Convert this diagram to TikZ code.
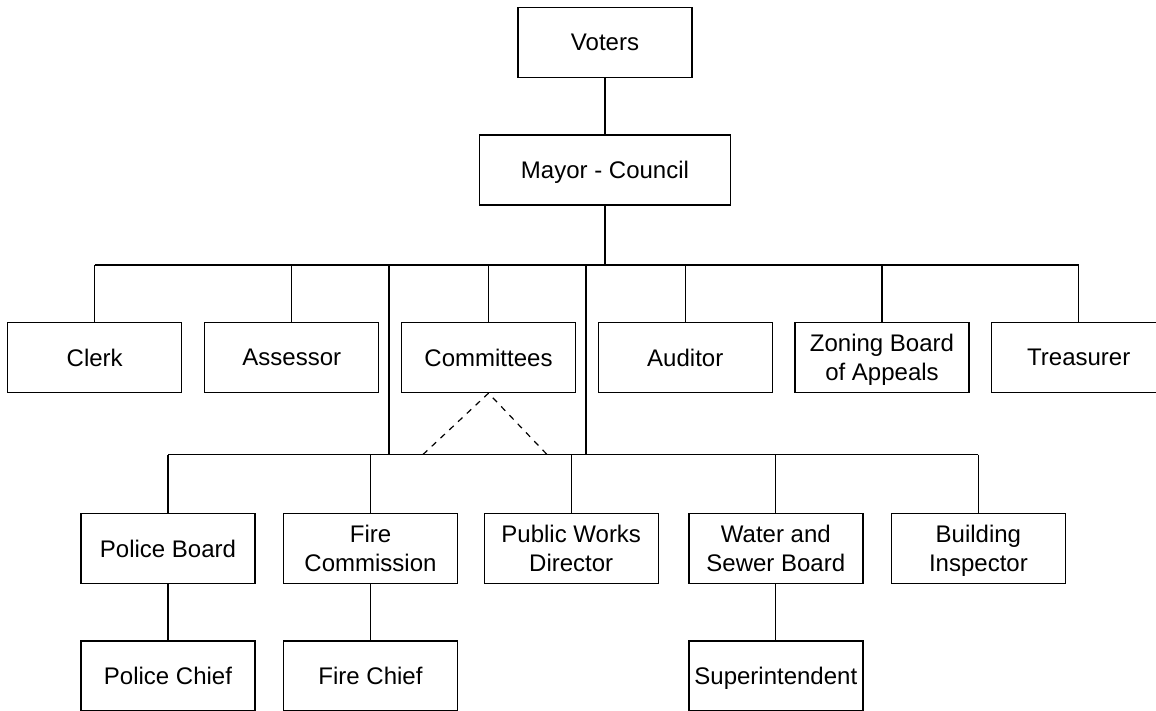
\documentclass[tikz,border=0pt]{standalone}
\usepackage{fontspec}
\setmainfont{Liberation Sans}
\usepackage{tikz}

\tikzset{
    office/.style={draw, line width=0.7pt, minimum width=87pt, minimum height=35pt,
        inner sep=1pt, text depth=0pt, align=center,
        font=\fontsize{12pt}{14.5pt}\selectfont},
    link/.style={line width=0.6pt},
}

\begin{document}
\begin{tikzpicture}[x=0.5pt,y=-0.5pt]
    \useasboundingbox (0,0) rectangle (1156,711);
    \clip (0,0) rectangle (1156,711);
    \node[office] (voters) at (605,42.5) {Voters};
    \node[office, minimum width=125.5pt] (mayor) at (605,170) {Mayor - Council};
    \foreach \n/\x/\t in {clerk/94.75/Clerk, assessor/291.75/Assessor,
        committees/488.5/Committees, auditor/685.25/Auditor,
        zoning/882/{Zoning Board\\of Appeals}, treasurer/1078.75/Treasurer}{%
        \node[office] (\n) at (\x,357.5) {\t};
    }%
    \foreach \n/\x/\t in {policeboard/168/Police Board, firecomm/370.5/{Fire\\Commission},
        publicworks/571.2/{Public Works\\Director}, waterboard/775.8/{Water and\\Sewer Board},
        inspector/978.4/{Building\\Inspector}}{%
        \node[office] (\n) at (\x,548.5) {\t};
    }%
    \node[office] (policechief) at (168,676) {Police Chief};
    \node[office] (firechief) at (370.5,676) {Fire Chief};
    \node[office] (superintendent) at (775.8,676) {Superintendent};
    % buses
    \coordinate (busA) at (605,265);
    \coordinate (busB) at (573,454.5);
    \coordinate (dropL) at (389,265);
    \coordinate (dropR) at (586,265);
    \coordinate (dashL) at (423,454.5);
    \coordinate (dashR) at (547,454.5);
    \draw[link] (voters) -- (mayor);
    \draw[link] (mayor) -- (busA);
    \draw[link] (clerk.north |- busA) -- (treasurer.north |- busA);
    \foreach \n in {clerk,assessor,committees,auditor,zoning,treasurer}{%
        \draw[link] (\n.north |- busA) -- (\n.north);
    }%
    \draw[link] (dropL) -- (dropL |- busB);
    \draw[link] (dropR) -- (dropR |- busB);
    \draw[link] (policeboard.north |- busB) -- (inspector.north |- busB);
    \foreach \n in {policeboard,firecomm,publicworks,waterboard,inspector}{%
        \draw[link] (\n.north |- busB) -- (\n.north);
    }%
    \draw[link, dashed] (dashL) -- (committees.south) -- (dashR);
    \draw[link] (policeboard) -- (policechief);
    \draw[link] (firecomm) -- (firechief);
    \draw[link] (waterboard) -- (superintendent);
\end{tikzpicture}
\end{document}
